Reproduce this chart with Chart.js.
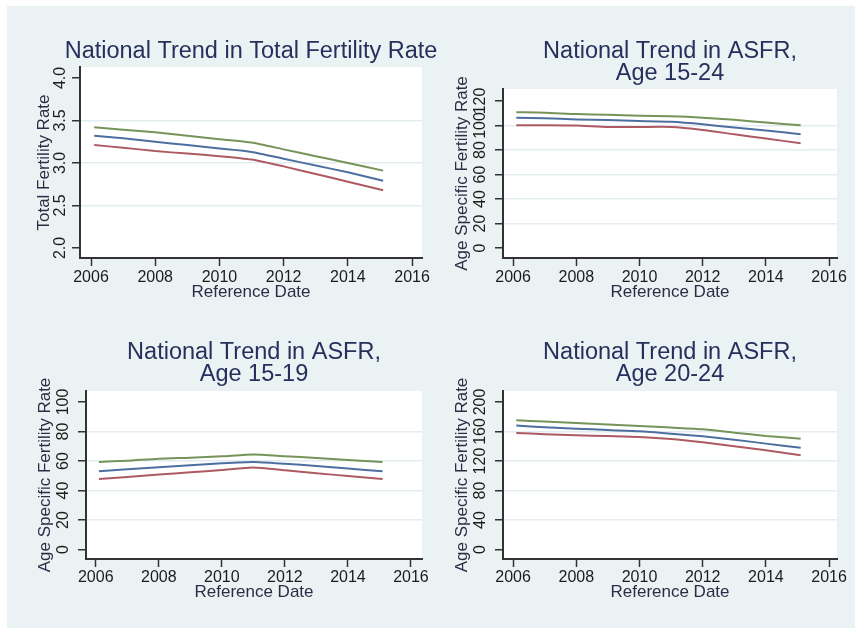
<!DOCTYPE html>
<html>
<head>
<meta charset="utf-8">
<script src="https://cdn.jsdelivr.net/npm/chart.js@4.4.1/dist/chart.umd.min.js"></script>
<style>
  body { margin: 0; background: #fff; }
  #wrap { position: relative; width: 860px; height: 632px; }
  #bg { position: absolute; left: 7px; top: 6px; width: 848px; height: 622px; background: #eaf2f3; }
  canvas { position: absolute; left: 0; top: 0; }
</style>
</head>
<body>
<div id="wrap">
  <div id="bg"></div>
  <canvas id="tfr" width="860" height="632"></canvas>
  <canvas id="asfr1524" width="860" height="632"></canvas>
  <canvas id="asfr1519" width="860" height="632"></canvas>
  <canvas id="asfr2024" width="860" height="632"></canvas>
</div>
<script>
// reference dates (x values shared by every panel)
const years = [2006.1, 2007, 2008, 2009, 2010, 2011, 2012, 2013, 2014, 2015.1];
const xTicks = [2006, 2008, 2010, 2012, 2014, 2016];

// Total Fertility Rate: upper, estimate, lower
const tfrUpper = [3.42, 3.39, 3.36, 3.32, 3.28, 3.24, 3.16, 3.08, 3.00, 2.91];
const tfrMid   = [3.32, 3.29, 3.25, 3.21, 3.17, 3.13, 3.05, 2.97, 2.89, 2.79];
const tfrLower = [3.21, 3.18, 3.14, 3.11, 3.08, 3.04, 2.96, 2.87, 2.78, 2.68];
const tfrTicks = [2.0, 2.5, 3.0, 3.5, 4.0];

// ASFR age 15-24
const a1524Upper = [110.8, 110.5, 109.3, 108.8, 108.0, 107.6, 106.4, 104.6, 102.4, 100.2];
const a1524Mid   = [106.4, 106.0, 105.0, 104.5, 103.7, 103.0, 101.0, 98.3, 96.0, 92.8];
const a1524Lower = [100.2, 100.2, 100.0, 98.8, 98.8, 98.8, 96.4, 92.8, 89.4, 85.5];
const a1524Ticks = [0, 20, 40, 60, 80, 100, 120];

// ASFR age 15-19
const a1519Upper = [59.4, 60.2, 61.6, 62.3, 63.2, 64.5, 63.3, 62.1, 60.7, 59.4];
const a1519Mid   = [53.0, 54.4, 55.8, 57.1, 58.5, 59.4, 58.2, 56.7, 54.9, 53.0];
const a1519Lower = [47.9, 49.2, 50.8, 52.4, 53.9, 55.6, 53.7, 51.7, 49.9, 47.9];
const a1519Ticks = [0, 20, 40, 60, 80, 100];

// ASFR age 20-24
const a2024Upper = [175.2, 173.5, 171.6, 169.5, 167.5, 165.3, 163.0, 158.5, 154.0, 150.3];
const a2024Mid   = [168.0, 165.8, 163.9, 162.0, 160.3, 157.1, 153.5, 149.0, 143.6, 138.0];
const a2024Lower = [158.0, 156.4, 154.9, 153.8, 152.6, 149.9, 145.4, 140.0, 134.5, 127.8];
const a2024Ticks = [0, 40, 80, 120, 160, 200];

const FONT = '"Liberation Sans", Arial, sans-serif';
const GREEN = "#76945a", BLUE = "#4d6fa0", RED = "#ad5a62";
const GRID = "#e3edf0", AXIS = "#333";

// draws white plot region + all the Stata-style text
const stataText = {
  id: "stataText",
  beforeDraw(chart) {
    const { ctx, chartArea: a } = chart;
    ctx.save();
    ctx.fillStyle = "#fff";
    ctx.fillRect(a.left, a.top, a.right - a.left, a.bottom - a.top);
    ctx.restore();
  },
  afterDraw(chart, args, o) {
    const { ctx, chartArea: a, scales: { x, y } } = chart;
    const cx = (a.left + a.right) / 2;
    const cy = (a.top + a.bottom) / 2;
    ctx.save();

    // x tick labels
    ctx.fillStyle = "#1c1c1c";
    ctx.font = "16px " + FONT;
    ctx.textAlign = "center";
    ctx.textBaseline = "middle";
    x.ticks.forEach(t => ctx.fillText(String(t.value), x.getPixelForValue(t.value), o.xLabY));

    // y tick labels, rotated
    y.ticks.forEach(t => {
      ctx.save();
      ctx.translate(o.yLabX, y.getPixelForValue(t.value));
      ctx.rotate(-Math.PI / 2);
      ctx.fillText(t.value.toFixed(o.decimals || 0), 0, 0);
      ctx.restore();
    });

    // axis titles
    ctx.fillStyle = "#2b2d45";
    ctx.font = "17px " + FONT;
    ctx.fillText("Reference Date", cx, o.xLabY + 14);
    ctx.save();
    ctx.translate(o.yTitleX, cy);
    ctx.rotate(-Math.PI / 2);
    ctx.fillText(o.yTitle, 0, 0);
    ctx.restore();

    // panel title
    ctx.fillStyle = "#26305c";
    ctx.font = "23.5px " + FONT;
    ctx.textBaseline = "alphabetic";
    o.title.forEach((line, i) => ctx.fillText(line, cx, o.titleY + i * 22));

    ctx.restore();
  }
};

function makePanel(id, box, yRange, yTicks, series, text) {
  const [L, T, R, B] = box;
  const edgeTicks = [yTicks[0], yTicks[yTicks.length - 1]];
  new Chart(document.getElementById(id), {
    type: "line",
    data: {
      datasets: [
        { data: series[0].map((v, i) => ({ x: years[i], y: v })), borderColor: GREEN },
        { data: series[1].map((v, i) => ({ x: years[i], y: v })), borderColor: BLUE },
        { data: series[2].map((v, i) => ({ x: years[i], y: v })), borderColor: RED },
      ],
    },
    options: {
      responsive: false,
      devicePixelRatio: 1,
      animation: false,
      layout: { padding: { left: L - 10, top: T, right: 860 - R, bottom: 632 - B - 10 } },
      elements: {
        line: { borderWidth: 2, tension: 0.2 },
        point: { radius: 0 },
      },
      plugins: {
        legend: { display: false },
        tooltip: { enabled: false },
        stataText: text,
      },
      scales: {
        x: {
          type: "linear",
          min: text.xMin,
          max: text.xMax,
          afterBuildTicks: s => { s.ticks = xTicks.map(v => ({ value: v })); },
          afterFit: s => { s.height = 10; },
          ticks: { display: false },
          grid: { drawOnChartArea: false, tickLength: 8, tickColor: AXIS, tickWidth: 1.5 },
          border: { color: AXIS, width: 2 },
        },
        y: {
          min: yRange[0],
          max: yRange[1],
          afterBuildTicks: s => { s.ticks = yTicks.map(v => ({ value: v })); },
          afterFit: s => { s.width = 10; },
          ticks: { display: false },
          grid: {
            color: c => (c.tick && edgeTicks.includes(c.tick.value) ? "rgba(0,0,0,0)" : GRID),
            lineWidth: 1.5,
            tickLength: 8,
            tickColor: AXIS,
            tickWidth: 1.5,
          },
          border: { color: AXIS, width: 2 },
        },
      },
    },
    plugins: [stataText],
  });
}

makePanel("tfr", [80, 67, 422, 258], [1.882, 4.129], tfrTicks,
  [tfrUpper, tfrMid, tfrLower],
  { title: ["National Trend in Total Fertility Rate"], titleY: 58, yTitle: "Total Fertility Rate",
    yTitleX: 44, yLabX: 61, xLabY: 278, decimals: 1, xMin: 2005.657, xMax: 2016.31 });

makePanel("asfr1524", [503, 89, 837, 258], [-8.16, 129.8], a1524Ticks,
  [a1524Upper, a1524Mid, a1524Lower],
  { title: ["National Trend in ASFR,", "Age 15-24"], titleY: 58, yTitle: "Age Specific Fertility Rate",
    yTitleX: 462, yLabX: 481, xLabY: 278, xMin: 2005.68, xMax: 2016.25 });

makePanel("asfr1519", [86, 391, 422, 559], [-6.37, 107.45], a1519Ticks,
  [a1519Upper, a1519Mid, a1519Lower],
  { title: ["National Trend in ASFR,", "Age 15-19"], titleY: 359, yTitle: "Age Specific Fertility Rate",
    yTitleX: 45, yLabX: 64, xLabY: 578, xMin: 2005.69, xMax: 2016.35 });

makePanel("asfr2024", [503, 391, 837, 559], [-12.7, 214.9], a2024Ticks,
  [a2024Upper, a2024Mid, a2024Lower],
  { title: ["National Trend in ASFR,", "Age 20-24"], titleY: 359, yTitle: "Age Specific Fertility Rate",
    yTitleX: 462, yLabX: 481, xLabY: 578, xMin: 2005.68, xMax: 2016.25 });
</script>
</body>
</html>
